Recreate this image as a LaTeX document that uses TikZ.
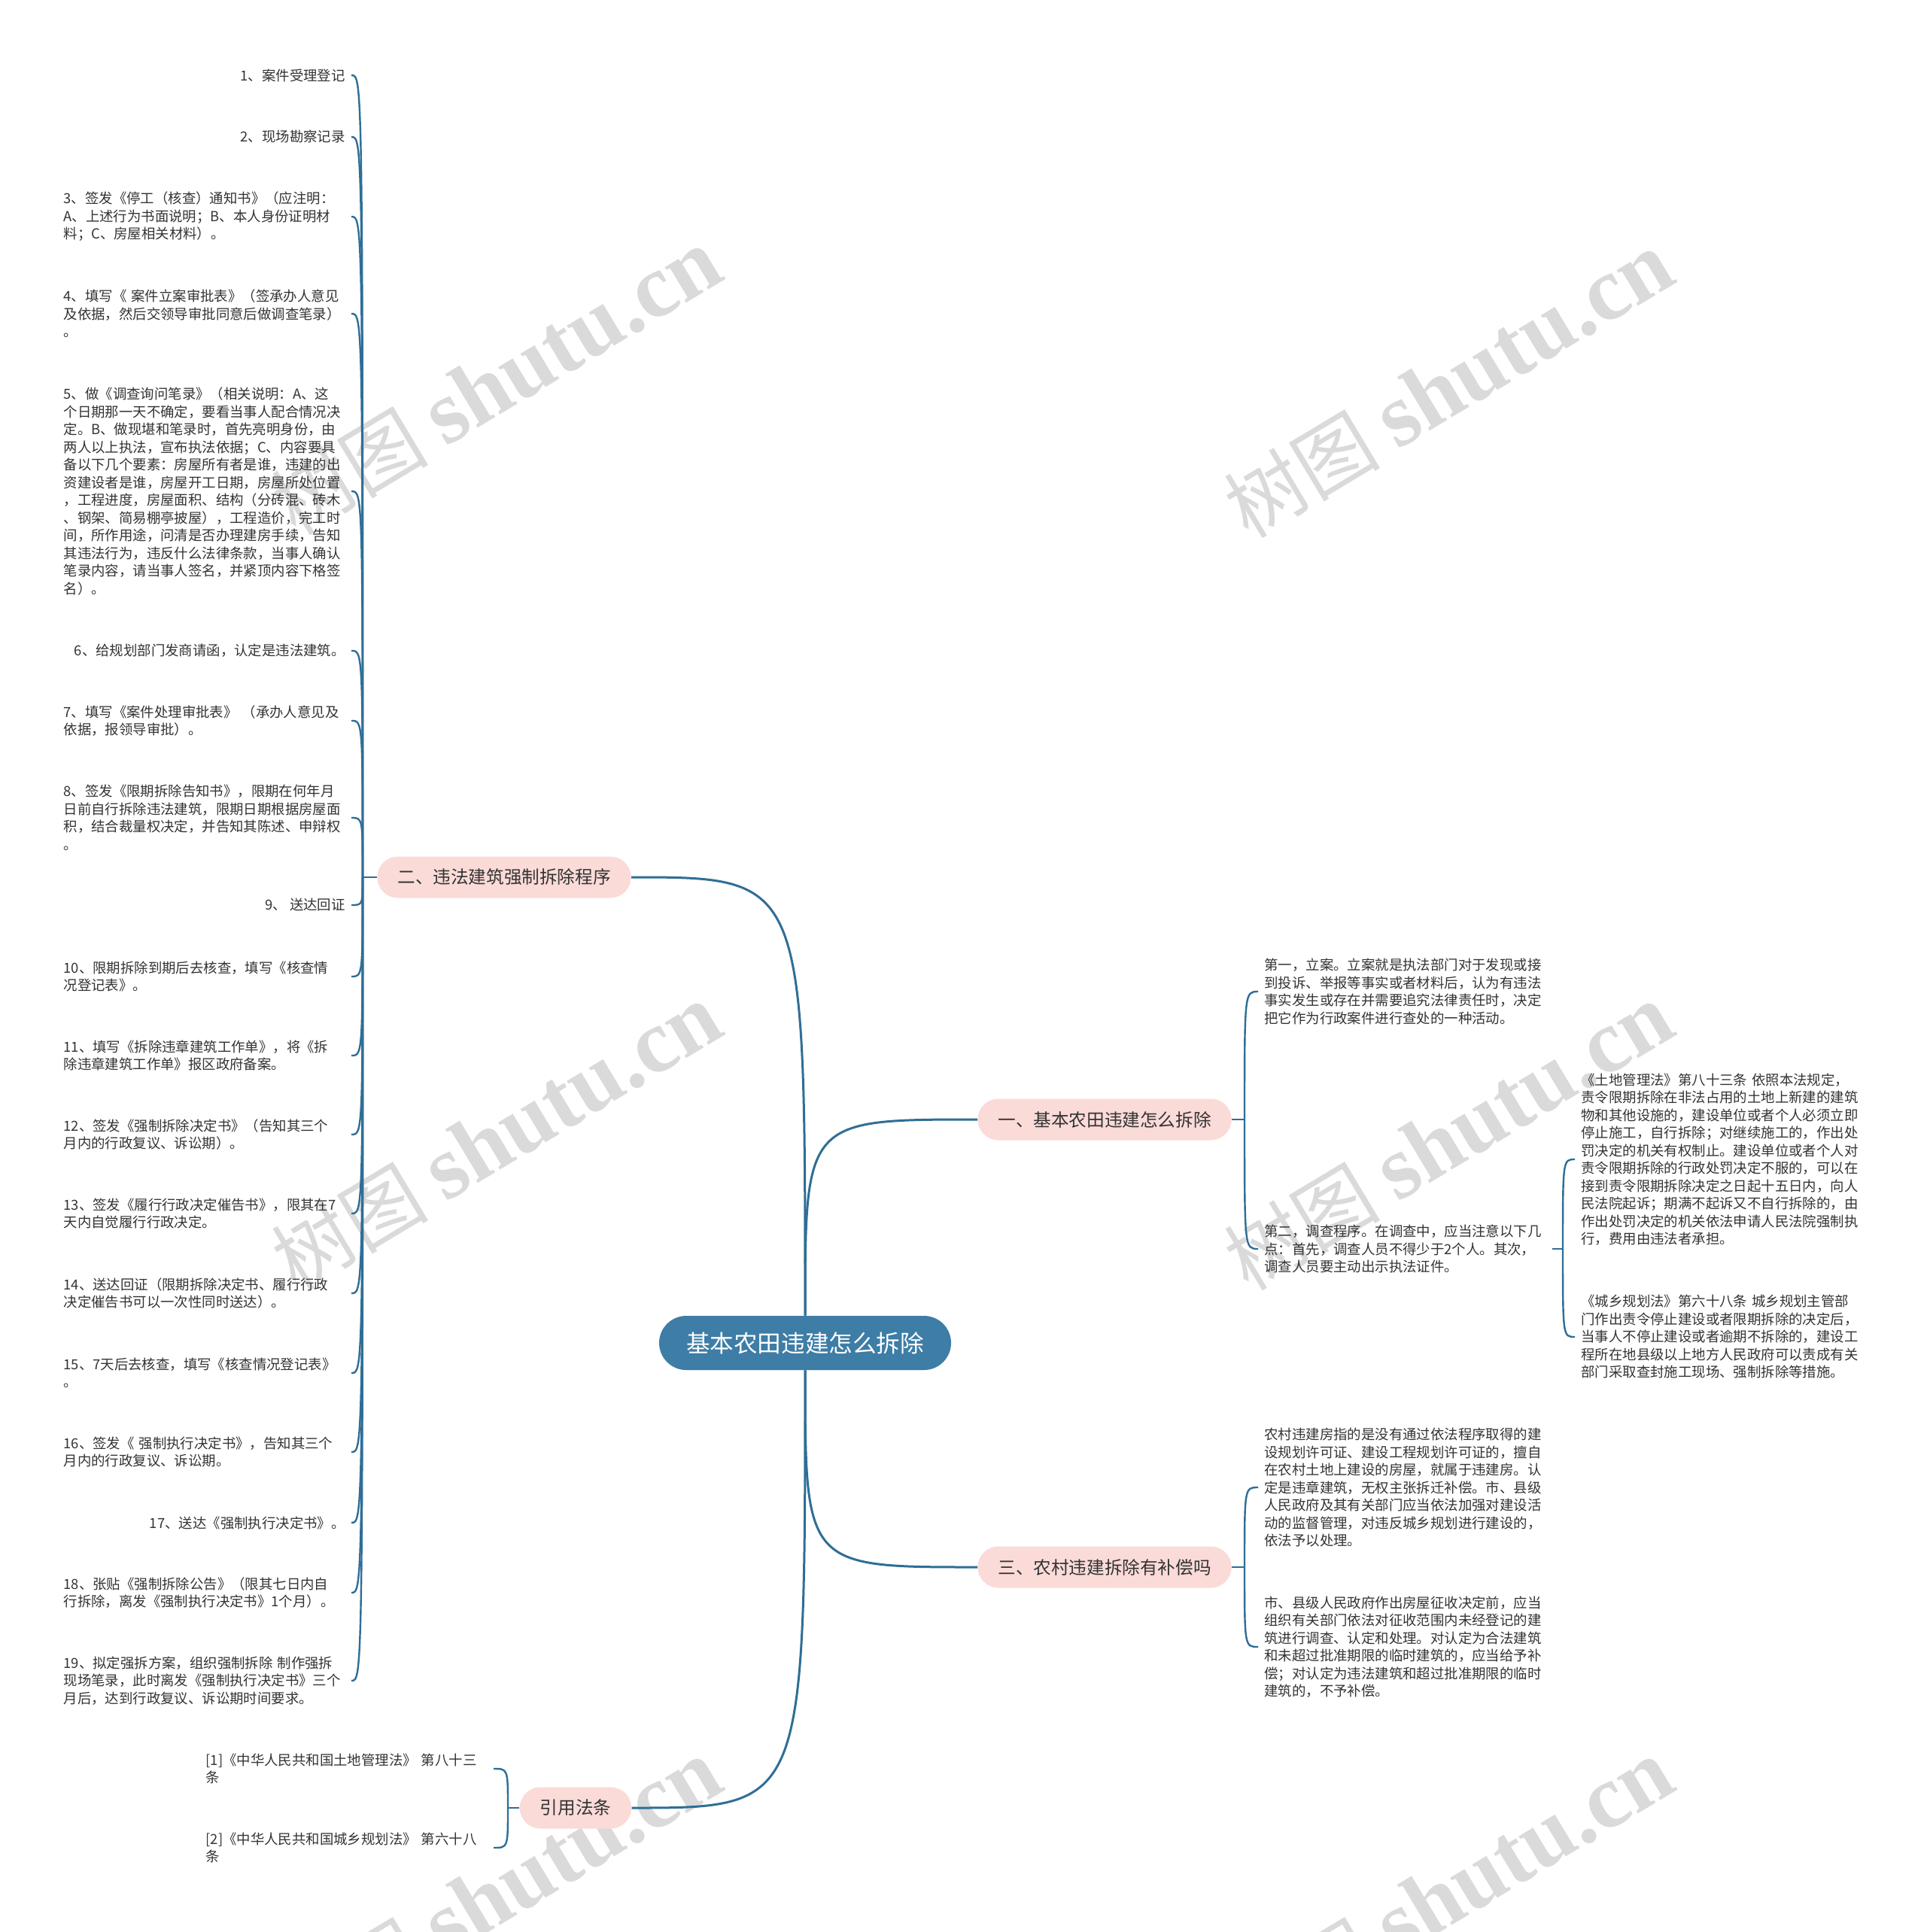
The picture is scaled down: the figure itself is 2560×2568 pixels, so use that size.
\documentclass[tikz,border=0pt]{standalone}
\usepackage{fontspec}
\setmainfont{Noto Sans CJK SC}
\newfontfamily\wmserif{Liberation Serif}
\usetikzlibrary{calc}
\definecolor{linec}{HTML}{2F6E96}
\definecolor{rootc}{HTML}{3D7DA6}
\definecolor{pillc}{HTML}{FADBD8}
\definecolor{txtc}{HTML}{333333}
\definecolor{wmc}{HTML}{DADADA}
\begin{document}
\begin{tikzpicture}[x=0.5pt,y=-0.5pt,
  rootbox/.style={fill=rootc, text=white, rounded corners=18pt, minimum height=36pt, inner xsep=18pt, inner ysep=0pt, font=\fontsize{15.8pt}{18pt}\selectfont},
  pill/.style={fill=pillc, text=txtc, rounded corners=13.7pt, minimum height=27.5pt, inner xsep=13.5pt, inner ysep=0pt, font=\fontsize{11.8pt}{14pt}\selectfont},
  leaf/.style={text=txtc, inner xsep=4pt, inner ysep=0pt, font=\fontsize{9.2pt}{11.75pt}\selectfont},
  para/.style={leaf, text width=187pt, align=left},
  mainline/.style={draw=linec, line width=1.5pt},
  subline/.style={draw=linec, line width=1.2pt},
  wm/.style={text=wmc, rotate=31, inner sep=0pt}
]
\useasboundingbox (0,0) rectangle (2560,2568);
\fill[white] (0,0) rectangle (2560,2568);

% watermarks
\foreach \wx/\wy [count=\k] in {660/508,1925/512,660/1512,1925/1512,660/2516,1925/2516}
  \node[wm] (wm\k) at (\wx,\wy) {\fontsize{52pt}{60pt}\selectfont 树图 {\wmserif\bfseries\fontsize{60pt}{66pt}\selectfont shutu.cn}};

% root and branches
\node[rootbox] (root) at (1070,1785) {基本农田违建怎么拆除};
\node[pill] (b1) at (1468,1488) {一、基本农田违建怎么拆除};
\node[pill] (b2) at (670,1166) {二、违法建筑强制拆除程序};
\node[pill] (b3) at (1468,2083) {三、农村违建拆除有补偿吗};
\node[pill] (b4) at (765,2403) {引用法条};

\coordinate (s1) at (1654,1488);
\coordinate (s2) at (482,1166);
\coordinate (s3) at (1654,2083);
\coordinate (s4) at (675,2403);

% left column (branch 2)
\node[leaf, anchor=east] (l1) at (467,100) {1、案件受理登记};
\node[leaf, anchor=east] (l2) at (467,182) {2、现场勘察记录};
\node[para, anchor=east] (l3) at (467,288) {3、签发《停工（核查）通知书》（应注明：\\A、上述行为书面说明；B、本人身份证明材\\料；C、房屋相关材料）。};
\node[para, anchor=east] (l4) at (467,417) {4、填写《 案件立案审批表》（签承办人意见\\及依据，然后交领导审批同意后做调查笔录）\\。};
\node[para, anchor=east] (l5) at (467,653) {5、做《调查询问笔录》（相关说明：A、这\\个日期那一天不确定，要看当事人配合情况决\\定。B、做现堪和笔录时，首先亮明身份，由\\两人以上执法，宣布执法依据；C、内容要具\\备以下几个要素：房屋所有者是谁，违建的出\\资建设者是谁，房屋开工日期，房屋所处位置\\，工程进度，房屋面积、结构（分砖混、砖木\\、钢架、简易棚亭披屋），工程造价，完工时\\间，所作用途，问清是否办理建房手续，告知\\其违法行为，违反什么法律条款，当事人确认\\笔录内容，请当事人签名，并紧顶内容下格签\\名）。};
\node[leaf, anchor=east] (l6) at (467,865) {6、给规划部门发商请函，认定是违法建筑。};
\node[para, anchor=east] (l7) at (467,958) {7、填写《案件处理审批表》 （承办人意见及\\依据，报领导审批）。};
\node[para, anchor=east] (l8) at (467,1087) {8、签发《限期拆除告知书》，限期在何年月\\日前自行拆除违法建筑，限期日期根据房屋面\\积，结合裁量权决定，并告知其陈述、申辩权\\。};
\node[leaf, anchor=east] (l9) at (467,1203) {9、 送达回证};
\node[para, anchor=east] (l10) at (467,1298) {10、限期拆除到期后去核查，填写《核查情\\况登记表》。};
\node[para, anchor=east] (l11) at (467,1403) {11、填写《拆除违章建筑工作单》，将《拆\\除违章建筑工作单》报区政府备案。};
\node[para, anchor=east] (l12) at (467,1508) {12、签发《强制拆除决定书》（告知其三个\\月内的行政复议、诉讼期）。};
\node[para, anchor=east] (l13) at (467,1613) {13、签发《履行行政决定催告书》，限其在7\\天内自觉履行行政决定。};
\node[para, anchor=east] (l14) at (467,1719) {14、送达回证（限期拆除决定书、履行行政\\决定催告书可以一次性同时送达）。};
\node[para, anchor=east] (l15) at (467,1825) {15、7天后去核查，填写《核查情况登记表》\\。};
\node[para, anchor=east] (l16) at (467,1930) {16、签发《 强制执行决定书》，告知其三个\\月内的行政复议、诉讼期。};
\node[leaf, anchor=east] (l17) at (467,2024) {17、送达《强制执行决定书》。};
\node[para, anchor=east] (l18) at (467,2117) {18、张贴《强制拆除公告》（限其七日内自\\行拆除，离发《强制执行决定书》1个月）。};
\node[para, anchor=east] (l19) at (467,2234) {19、拟定强拆方案，组织强制拆除 制作强拆\\现场笔录，此时离发《强制执行决定书》三个\\月后，达到行政复议、诉讼期时间要求。};

% branch 1 children
\node[para, anchor=west] (c1a) at (1672,1318) {第一，立案。立案就是执法部门对于发现或接\\到投诉、举报等事实或者材料后，认为有违法\\事实发生或存在并需要追究法律责任时，决定\\把它作为行政案件进行查处的一种活动。};
\node[para, anchor=west] (c1b) at (1672,1660) {第二，调查程序。在调查中，应当注意以下几\\点：首先，调查人员不得少于2个人。其次，\\调查人员要主动出示执法证件。};
\coordinate (s1b) at (2077,1660);
\node[para, anchor=west] (c1b1) at (2093,1541) {《土地管理法》第八十三条 依照本法规定，\\责令限期拆除在非法占用的土地上新建的建筑\\物和其他设施的，建设单位或者个人必须立即\\停止施工，自行拆除；对继续施工的，作出处\\罚决定的机关有权制止。建设单位或者个人对\\责令限期拆除的行政处罚决定不服的，可以在\\接到责令限期拆除决定之日起十五日内，向人\\民法院起诉；期满不起诉又不自行拆除的，由\\作出处罚决定的机关依法申请人民法院强制执\\行，费用由违法者承担。};
\node[para, anchor=west] (c1b2) at (2093,1777) {《城乡规划法》第六十八条 城乡规划主管部\\门作出责令停止建设或者限期拆除的决定后，\\当事人不停止建设或者逾期不拆除的，建设工\\程所在地县级以上地方人民政府可以责成有关\\部门采取查封施工现场、强制拆除等措施。};

% branch 3 children
\node[para, anchor=west] (c3a) at (1672,1977) {农村违建房指的是没有通过依法程序取得的建\\设规划许可证、建设工程规划许可证的，擅自\\在农村土地上建设的房屋，就属于违建房。认\\定是违章建筑，无权主张拆迁补偿。市、县级\\人民政府及其有关部门应当依法加强对建设活\\动的监督管理，对违反城乡规划进行建设的，\\依法予以处理。};
\node[para, anchor=west] (c3b) at (1672,2189) {市、县级人民政府作出房屋征收决定前，应当\\组织有关部门依法对征收范围内未经登记的建\\筑进行调查、认定和处理。对认定为合法建筑\\和未超过批准期限的临时建筑的，应当给予补\\偿；对认定为违法建筑和超过批准期限的临时\\建筑的，不予补偿。};

% branch 4 children
\node[para, anchor=east] (c4a) at (656,2351) {[1]《中华人民共和国土地管理法》 第八十三\\条};
\node[para, anchor=east] (c4b) at (656,2456) {[2]《中华人民共和国城乡规划法》 第六十八\\条};

% main connectors
\draw[mainline] (root.north) .. controls (root.north |- b1.west) .. (b1.west);
\draw[mainline] (root.north) .. controls (root.north |- b2.east) .. (b2.east);
\draw[mainline] (root.south) .. controls (root.south |- b3.west) .. (b3.west);
\draw[mainline] (root.south) .. controls (root.south |- b4.east) .. (b4.east);

% stubs
\draw[subline] (b1.east) -- (s1);
\draw[subline] (b2.west) -- (s2);
\draw[subline] (b3.east) -- (s3);
\draw[subline] (b4.west) -- (s4);
\draw[subline] (c1b.east) -- (s1b);

% child connectors
\foreach \i in {1,...,19}
  \draw[subline] (s2) .. controls (s2 |- l\i.east) .. (l\i.east);
\foreach \n in {c1a,c1b}
  \draw[subline] (s1) .. controls (s1 |- \n.west) .. (\n.west);
\foreach \n in {c1b1,c1b2}
  \draw[subline] (s1b) .. controls (s1b |- \n.west) .. (\n.west);
\foreach \n in {c3a,c3b}
  \draw[subline] (s3) .. controls (s3 |- \n.west) .. (\n.west);
\foreach \n in {c4a,c4b}
  \draw[subline] (s4) .. controls (s4 |- \n.east) .. (\n.east);
\end{tikzpicture}
\end{document}
